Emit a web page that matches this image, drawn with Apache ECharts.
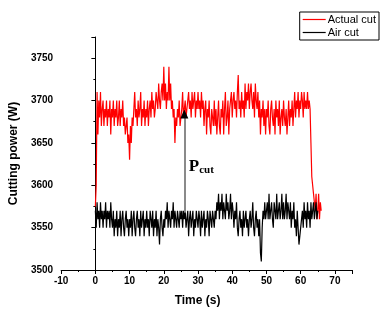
<!DOCTYPE html>
<html>
<head>
<meta charset="utf-8">
<script src="https://cdn.jsdelivr.net/npm/echarts@6/dist/echarts.min.js"></script>
<style>
  html, body { margin: 0; padding: 0; background: #fff; }
  #main { width: 392px; height: 320px; }
</style>
</head>
<body>
<div id="main"></div>
<script>
// sample spacing of the recorded signal (s)
var step = 0.25;

// Actual cut power (W), one value every 0.25 s from t = 0
var actualCut = [
  3575, 3600, 3710, 3660, 3700, 3680, 3710, 3670, 3690, 3700, 3670, 3690, 3680, 3700, 3670, 3690, 3680, 3700, 3660, 3690,
  3680, 3700, 3670, 3690, 3680, 3700, 3670, 3680, 3700, 3670, 3690, 3680, 3700, 3670, 3680, 3660, 3670, 3680, 3650, 3660,
  3630, 3670, 3650, 3680, 3670, 3690, 3710, 3680, 3690, 3670, 3700, 3680, 3690, 3710, 3670, 3690, 3680, 3700, 3670, 3690,
  3680, 3700, 3670, 3690, 3700, 3680, 3710, 3690, 3700, 3680, 3690, 3710, 3700, 3690, 3720, 3700, 3690, 3710, 3720, 3700,
  3740, 3700, 3720, 3690, 3710, 3700, 3740, 3700, 3720, 3690, 3700, 3680, 3690, 3650, 3680, 3670, 3690, 3680, 3700, 3670,
  3680, 3690, 3710, 3680, 3690, 3700, 3680, 3690, 3700, 3710, 3690, 3700, 3680, 3710, 3690, 3700, 3710, 3680, 3700, 3690,
  3710, 3690, 3700, 3680, 3710, 3690, 3700, 3670, 3690, 3700, 3660, 3690, 3680, 3700, 3670, 3660, 3690, 3680, 3670, 3700,
  3670, 3690, 3660, 3680, 3700, 3670, 3660, 3690, 3680, 3700, 3660, 3690, 3710, 3670, 3680, 3700, 3660, 3690, 3700, 3710,
  3680, 3700, 3710, 3690, 3700, 3680, 3710, 3730, 3690, 3700, 3680, 3710, 3690, 3700, 3680, 3720, 3690, 3710, 3700, 3720,
  3690, 3710, 3720, 3700, 3690, 3710, 3680, 3720, 3700, 3690, 3710, 3680, 3700, 3660, 3690, 3680, 3700, 3670, 3690, 3660,
  3690, 3680, 3700, 3670, 3660, 3690, 3700, 3680, 3670, 3690, 3660, 3700, 3680, 3690, 3670, 3700, 3660, 3680, 3690, 3670,
  3700, 3680, 3670, 3690, 3660, 3680, 3700, 3670, 3690, 3680, 3700, 3670, 3690, 3710, 3680, 3700, 3690, 3710, 3680, 3700,
  3690, 3710, 3700, 3680, 3710, 3690, 3700, 3690, 3710, 3690, 3700, 3690, 3650, 3610, 3600, 3590, 3580, 3570, 3590, 3560,
  3570, 3590, 3560, 3580, 3570
];

// Air cut power (W), one value every 0.25 s from t = 0
var airCut = [
  3570, 3550, 3580, 3560, 3570, 3550, 3580, 3560, 3570, 3550, 3570, 3560, 3580, 3550, 3570, 3560, 3570, 3550, 3580, 3560,
  3550, 3570, 3540, 3560, 3550, 3570, 3540, 3560, 3550, 3570, 3540, 3560, 3570, 3550, 3540, 3560, 3570, 3550, 3560, 3540,
  3560, 3550, 3570, 3540, 3560, 3570, 3550, 3540, 3560, 3570, 3550, 3560, 3540, 3570, 3550, 3560, 3570, 3540, 3560, 3550,
  3570, 3550, 3560, 3540, 3570, 3560, 3550, 3570, 3540, 3560, 3550, 3570, 3540, 3560, 3550, 3530, 3560, 3570, 3550, 3540,
  3560, 3550, 3570, 3560, 3580, 3550, 3570, 3560, 3550, 3570, 3560, 3580, 3550, 3570, 3560, 3550, 3570, 3560, 3550, 3570,
  3560, 3570, 3550, 3570, 3560, 3570, 3550, 3560, 3570, 3540, 3560, 3570, 3550, 3560, 3570, 3540, 3560, 3550, 3570, 3560,
  3550, 3570, 3560, 3540, 3570, 3550, 3560, 3570, 3540, 3560, 3550, 3570, 3560, 3540, 3570, 3560, 3550, 3570, 3560, 3550,
  3570, 3560, 3580, 3570, 3590, 3560, 3580, 3570, 3590, 3560, 3580, 3570, 3560, 3590, 3570, 3580, 3560, 3570, 3590, 3560,
  3580, 3570, 3550, 3570, 3560, 3580, 3550, 3540, 3560, 3570, 3550, 3560, 3540, 3570, 3550, 3560, 3570, 3550, 3560, 3540,
  3560, 3570, 3550, 3560, 3580, 3550, 3540, 3560, 3570, 3550, 3560, 3540, 3560, 3520, 3510, 3550, 3570, 3560, 3580, 3560,
  3570, 3580, 3560, 3590, 3560, 3570, 3580, 3560, 3550, 3580, 3570, 3560, 3590, 3560, 3570, 3580, 3560, 3570, 3590, 3560,
  3580, 3560, 3570, 3590, 3560, 3580, 3570, 3560, 3580, 3550, 3570, 3560, 3580, 3550, 3560, 3540, 3570, 3550, 3530, 3540,
  3550, 3560, 3570, 3550, 3580, 3560, 3570, 3550, 3580, 3560, 3570, 3550, 3580, 3560, 3570, 3580, 3560, 3570, 3580, 3560,
  3570
];

// P_cut arrow: time (s), bottom and top power (W)
var arrowTime = 26;
var arrowFrom = 3568;
var arrowTo = 3684;
var pcutLabelAt = [27.3, 3622];

var xTicks = { min: -10, max: 75, interval: 10 };
var yTicks = { min: 3500, max: 3775, interval: 50 };

function pairs(arr) {
  return arr.map(function (v, i) { return [i * step, v]; });
}

var myChart = echarts.init(document.getElementById('main'));

var labelFont = {
  color: '#000',
  fontSize: 10,
  fontWeight: 'bold',
  fontFamily: 'Liberation Sans'
};

var option = {
  animation: false,
  grid: { left: 59, right: 40, top: 37, bottom: 50 },
  legend: {
    orient: 'vertical',
    right: 13,
    top: 12,
    padding: [2, 3, 2, 3],
    itemGap: 2,
    itemWidth: 23,
    itemHeight: 1.2,
    borderColor: '#000',
    borderWidth: 1,
    borderRadius: 0,
    icon: 'rect',
    textStyle: { fontSize: 11, fontFamily: 'Liberation Sans', color: '#000', padding: [0, 0, 0, -3] },
    data: ['Actual cut', 'Air cut']
  },
  xAxis: {
    type: 'value',
    min: xTicks.min,
    max: xTicks.max,
    interval: xTicks.interval,
    name: 'Time (s)',
    nameLocation: 'middle',
    nameGap: 25,
    nameTextStyle: { fontSize: 12, fontWeight: 'bold', fontFamily: 'Liberation Sans', color: '#000', padding: [0, 18, 0, 0] },
    axisLine: { onZero: false, lineStyle: { color: '#000', width: 1 } },
    axisTick: { length: 4, lineStyle: { color: '#000' } },
    minorTick: { show: true, splitNumber: 2, length: 2, lineStyle: { color: '#000' } },
    axisLabel: Object.assign({ margin: 6, showMaxLabel: false, formatter: function (v) { return String(v); } }, labelFont),
    splitLine: { show: false }
  },
  yAxis: {
    type: 'value',
    min: yTicks.min,
    max: yTicks.max,
    interval: yTicks.interval,
    name: 'Cutting power (W)',
    nameLocation: 'middle',
    nameGap: 34,
    nameTextStyle: { fontSize: 12, fontWeight: 'bold', fontFamily: 'Liberation Sans', color: '#000' },
    axisLine: { show: true, lineStyle: { color: '#000', width: 1 } },
    axisTick: { show: true, length: 4, lineStyle: { color: '#000' } },
    minorTick: { show: true, splitNumber: 2, length: 2, lineStyle: { color: '#000' } },
    axisLabel: Object.assign({ margin: 8, showMaxLabel: false, formatter: function (v) { return String(v); } }, labelFont),
    splitLine: { show: false }
  },
  series: [
    {
      name: 'Actual cut',
      type: 'line',
      showSymbol: false,
      symbol: 'none',
      color: '#ff0000',
      lineStyle: { width: 1.2, color: '#ff0000' },
      z: 2,
      data: pairs(actualCut)
    },
    {
      name: 'Air cut',
      type: 'line',
      showSymbol: false,
      symbol: 'none',
      color: '#000',
      lineStyle: { width: 1.2, color: '#000' },
      z: 3,
      data: pairs(airCut),
      markLine: {
        silent: true,
        symbol: ['none', 'none'],
        label: { show: false },
        lineStyle: { color: '#8a8a8a', width: 2, type: 'solid' },
        data: [[{ coord: [arrowTime, arrowFrom] }, { coord: [arrowTime, arrowTo] }]]
      },
      markPoint: {
        silent: true,
        data: [
          {
            coord: [arrowTime, arrowTo],
            symbol: 'triangle',
            symbolSize: [8, 9],
            itemStyle: { color: '#000' },
            label: { show: false }
          },
          {
            coord: pcutLabelAt,
            symbol: 'circle',
            symbolSize: 0,
            label: {
              show: true,
              position: 'right',
              distance: 0,
              formatter: '{p|P}{s|cut}',
              rich: {
                p: { fontFamily: 'Liberation Serif', fontWeight: 'bold', fontSize: 17, color: '#000' },
                s: { fontFamily: 'Liberation Serif', fontWeight: 'bold', fontSize: 11, color: '#000', padding: [8, 0, 0, 0] }
              }
            }
          }
        ]
      }
    }
  ]
};

myChart.setOption(option);
</script>
</body>
</html>
